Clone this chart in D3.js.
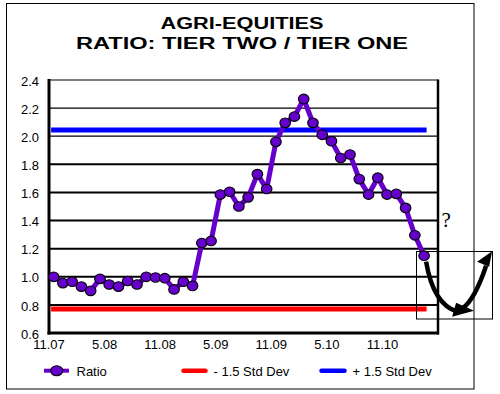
<!DOCTYPE html>
<html><head><meta charset="utf-8">
<script src="https://cdn.jsdelivr.net/npm/d3@7/dist/d3.min.js"></script>
<style>body{margin:0;background:#fff}svg{display:block}</style>
</head><body>
<svg id="c" width="500" height="394"></svg>
<script>
const months = ["11.07","12.07","1.08","2.08","3.08","4.08","5.08","6.08","7.08","8.08","9.08","10.08",
 "11.08","12.08","1.09","2.09","3.09","4.09","5.09","6.09","7.09","8.09","9.09","10.09",
 "11.09","12.09","1.10","2.10","3.10","4.10","5.10","6.10","7.10","8.10","9.10","10.10",
 "11.10","12.10","1.11","2.11","3.11","4.11"];
const ratio = [1.0,0.955,0.965,0.93,0.90,0.985,0.945,0.93,0.97,0.945,1.0,0.995,0.99,0.91,0.965,0.935,
 1.24,1.255,1.585,1.605,1.5,1.565,1.73,1.625,1.96,2.095,2.14,2.265,2.095,2.01,1.965,1.845,1.87,1.695,
 1.585,1.705,1.585,1.59,1.49,1.295,1.15];
const minusStd = 0.77;
const plusStd = 2.045;
const yTicks = [0.6,0.8,1.0,1.2,1.4,1.6,1.8,2.0,2.2,2.4];
const xTickLabels = ["11.07","5.08","11.08","5.09","11.09","5.10","11.10"];
const titleLines = ["AGRI-EQUITIES","RATIO: TIER TWO / TIER ONE"];
const legendItems = ["Ratio","- 1.5 Std Dev","+ 1.5 Std Dev"];

const svg = d3.select("#c");
const L=49, R=438, T=80, B=333;
const x = d3.scaleBand().domain(months).range([L,R]).paddingInner(0).paddingOuter(0);
const y = d3.scaleLinear().domain([0.6,2.4]).range([B,T]);
const cx = (i)=> x(months[i]) + x.bandwidth()/2;
const purple = "#6600cc";

// outer frame
svg.append("rect").attr("x",6.5).attr("y",3.5).attr("width",467.5).attr("height",385.5)
  .attr("fill","none").attr("stroke","#000").attr("stroke-width",1);

// titles
const tl = [163,332], tb=[28.5,48.5];
titleLines.forEach((t,i)=>{
  svg.append("text").attr("x",242).attr("y",tb[i]).attr("text-anchor","middle")
    .attr("font-family","Liberation Sans, Arial, sans-serif").attr("font-weight","bold")
    .attr("font-size",16).attr("textLength",tl[i]).attr("lengthAdjust","spacingAndGlyphs").text(t);
});

// gridlines
svg.append("g").selectAll("line").data(yTicks.filter(v=>v>0.6)).join("line")
  .attr("x1",L).attr("x2",R).attr("y1",d=>y(d)).attr("y2",d=>y(d))
  .attr("stroke","#000").attr("stroke-width",d=>d>=2.0?1.2:2);

// y axis labels
const yAxis = d3.axisLeft(y).tickValues(yTicks).tickFormat(d3.format(".1f")).tickSize(0).tickPadding(10);
const gy = svg.append("g").attr("transform",`translate(${L},0)`).call(yAxis);
gy.select(".domain").remove();
gy.selectAll("text").attr("font-family","Liberation Sans, Arial, sans-serif").attr("font-size",13).attr("fill","#000").attr("dy","0.4em");

// x axis labels
const xAxis = d3.axisBottom(x).tickValues(xTickLabels).tickSize(0).tickPadding(0);
const gx = svg.append("g").attr("transform",`translate(${-x.bandwidth()/2},${B})`).call(xAxis);
gx.select(".domain").remove();
gx.selectAll("text").attr("font-family","Liberation Sans, Arial, sans-serif").attr("font-size",13).attr("fill","#000").attr("y",16).attr("dy",0);

// axis frame lines
svg.append("line").attr("x1",L).attr("x2",L).attr("y1",T-1).attr("y2",B+1.5).attr("stroke","#000").attr("stroke-width",3);
svg.append("line").attr("x1",L-1.5).attr("x2",R+1).attr("y1",B).attr("y2",B).attr("stroke","#000").attr("stroke-width",3);
svg.append("line").attr("x1",R).attr("x2",R).attr("y1",T-0.5).attr("y2",B+1.5).attr("stroke","#000").attr("stroke-width",2.5);

// std dev lines
const x0 = cx(0), x1 = cx(ratio.length-1);
svg.append("line").attr("x1",x0).attr("x2",x1).attr("y1",y(plusStd)).attr("y2",y(plusStd))
  .attr("stroke","#0000ff").attr("stroke-width",5).attr("stroke-linecap","square");
svg.append("line").attr("x1",x0).attr("x2",x1).attr("y1",y(minusStd)).attr("y2",y(minusStd))
  .attr("stroke","#ff0000").attr("stroke-width",5).attr("stroke-linecap","square");

// ratio line
svg.append("path").datum(ratio).attr("fill","none").attr("stroke",purple).attr("stroke-width",5)
  .attr("stroke-linejoin","round")
  .attr("d", d3.line().x((d,i)=>cx(i)).y(d=>y(d)));
svg.append("g").selectAll("ellipse").data(ratio).join("ellipse")
  .attr("cx",(d,i)=>cx(i)).attr("cy",d=>y(d)).attr("rx",5.3).attr("ry",4.8)
  .attr("fill",purple).attr("stroke","#000").attr("stroke-width",1.1);

// annotation: ? and arrows
const lx = x1, ly = y(ratio[ratio.length-1]);
svg.append("text").attr("x",441.5).attr("y",226.5).attr("font-family","Liberation Serif, Times New Roman, serif")
  .attr("font-size",21).text("?");
svg.append("rect").attr("x",416.5).attr("y",251.5).attr("width",76).attr("height",67.5)
  .attr("fill","none").attr("stroke","#000").attr("stroke-width",1);
svg.append("path").attr("d",`M${lx+2},${ly+6} C${lx+6},${ly+30} ${lx+14},${ly+50} ${lx+33},${ly+56}`)
  .attr("fill","none").attr("stroke","#000").attr("stroke-width",4.5);
svg.append("path").attr("d",`M${lx+28},${ly+61} L${lx+32},${ly+47} L${lx+50},${ly+55} Z`).attr("fill","#000");
svg.append("path").attr("d",`M${lx+38},${ly+53} C${lx+48},${ly+46} ${lx+56},${ly+28} ${lx+62},${ly+10}`)
  .attr("fill","none").attr("stroke","#000").attr("stroke-width",4.5);
svg.append("path").attr("d",`M${lx+68},${ly-4.5} L${lx+53},${ly+6} L${lx+65},${ly+11} Z`).attr("fill","#000");

// legend
const ly2 = 370.7;
const lg = svg.append("g").attr("font-family","Liberation Sans, Arial, sans-serif").attr("font-size",13);
lg.append("line").attr("x1",44).attr("x2",69).attr("y1",ly2).attr("y2",ly2).attr("stroke",purple).attr("stroke-width",4);
lg.append("ellipse").attr("cx",56.7).attr("cy",ly2).attr("rx",6).attr("ry",5).attr("fill",purple).attr("stroke","#000").attr("stroke-width",1.1);
lg.append("text").attr("x",76.5).attr("y",375.5).text(legendItems[0]);
lg.append("line").attr("x1",183.5).attr("x2",205.5).attr("y1",ly2).attr("y2",ly2).attr("stroke","#ff0000").attr("stroke-width",4.5).attr("stroke-linecap","round");
lg.append("text").attr("x",213.5).attr("y",375.5).text(legendItems[1]);
lg.append("line").attr("x1",321.5).attr("x2",344.5).attr("y1",ly2).attr("y2",ly2).attr("stroke","#0000ff").attr("stroke-width",4.5).attr("stroke-linecap","round");
lg.append("text").attr("x",352.5).attr("y",375.5).text(legendItems[2]);
</script>
</body></html>
